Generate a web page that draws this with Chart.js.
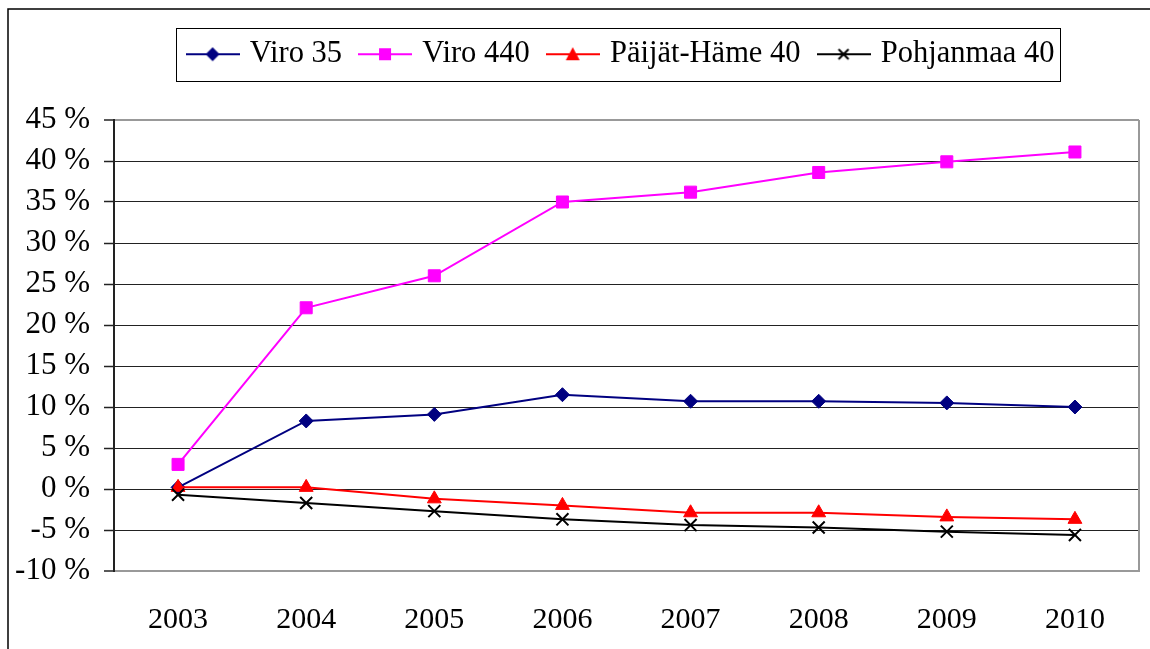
<!DOCTYPE html>
<html>
<head>
<meta charset="utf-8">
<script src="https://cdn.jsdelivr.net/npm/chart.js@4.4.0/dist/chart.umd.min.js"></script>
<style>
  body { margin: 0; background: #fff; }
</style>
</head>
<body>
<canvas id="kaavio" width="1150" height="649"></canvas>
<script>
// vuodet ja sarjat (%), luettu kuvasta
const vuodet = ['2003', '2004', '2005', '2006', '2007', '2008', '2009', '2010'];
const viro35 = [0.2, 8.3, 9.1, 11.5, 10.7, 10.7, 10.5, 10.0];
const viro440 = [3.0, 22.1, 26.0, 35.0, 36.2, 38.6, 39.9, 41.1];
const paijatHame40 = [0.2, 0.2, -1.2, -2.0, -2.9, -2.9, -3.4, -3.7];
const pohjanmaa40 = [-0.7, -1.7, -2.7, -3.7, -4.4, -4.7, -5.2, -5.6];
const sarjojenNimet = ['Viro 35', 'Viro 440', 'Päijät-Häme 40', 'Pohjanmaa 40'];
const yAkseli = { min: -10, max: 45, askel: 5 };

Chart.defaults.font.family = "'Liberation Serif', 'Times New Roman', serif";
Chart.defaults.font.size = 30;
Chart.defaults.color = '#000';

// legendan viiva + merkki kuvana
function legendaMerkki(vari, tyyli) {
    const c = document.createElement('canvas');
    c.width = 54;
    c.height = 20;
    const ctx = c.getContext('2d');
    ctx.strokeStyle = vari;
    ctx.fillStyle = vari;
    ctx.lineWidth = 2;
    ctx.beginPath();
    ctx.moveTo(0, 10);
    ctx.lineTo(54, 10);
    ctx.stroke();
    ctx.beginPath();
    if (tyyli === 'rectRot') {
        ctx.moveTo(27, 3); ctx.lineTo(34, 10); ctx.lineTo(27, 17); ctx.lineTo(20, 10);
        ctx.closePath(); ctx.fill();
    } else if (tyyli === 'rect') {
        ctx.fillRect(21, 4, 12, 12);
    } else if (tyyli === 'triangle') {
        ctx.moveTo(27, 3); ctx.lineTo(34, 16); ctx.lineTo(20, 16);
        ctx.closePath(); ctx.fill();
    } else {
        ctx.moveTo(22, 5); ctx.lineTo(32, 15);
        ctx.moveTo(32, 5); ctx.lineTo(22, 15);
        ctx.stroke();
    }
    return c;
}

const kehys = {
    id: 'kehys',
    beforeUpdate(chart) {
        // legendan alle lisää tilaa ennen kuvaajaa
        const l = chart.legend;
        if (l && !l._korjattu) {
            const alkuperainen = l.fit;
            l.fit = function () {
                alkuperainen.call(this);
                this.height += 40.5;
            };
            l._korjattu = true;
        }
    },
    afterLayout(chart) {
        chart.legend.left -= 4;
        chart.legend.right -= 4;
    },
    beforeDraw(chart) {
        const ctx = chart.ctx;
        ctx.save();
        ctx.strokeStyle = '#000';
        ctx.lineWidth = 1.5;
        ctx.beginPath();
        ctx.moveTo(8, 649);
        ctx.lineTo(8, 9);
        ctx.lineTo(1150, 9);
        ctx.stroke();
        ctx.restore();
    },
    afterDraw(chart) {
        const ctx = chart.ctx;
        const a = chart.chartArea;
        ctx.save();
        ctx.strokeStyle = '#999';
        ctx.lineWidth = 2;
        ctx.beginPath();
        ctx.moveTo(a.right, a.top);
        ctx.lineTo(a.right, a.bottom);
        ctx.stroke();
        // legendan laatikko
        const hb = chart.legend.legendHitBoxes;
        if (hb && hb.length) {
            const vasen = hb[0].left - 15;
            const viimeinen = hb[hb.length - 1];
            const oikea = viimeinen.left + viimeinen.width + 5;
            ctx.strokeStyle = '#000';
            ctx.lineWidth = 1;
            ctx.strokeRect(Math.round(vasen) + 0.5, Math.round(hb[0].top - 11) + 0.5, Math.round(oikea - vasen), Math.round(hb[0].height + 22));
        }
        ctx.restore();
    }
};

const merkit = [
    legendaMerkki('#000080', 'rectRot'),
    legendaMerkki('#FF00FF', 'rect'),
    legendaMerkki('#FF0000', 'triangle'),
    legendaMerkki('#000000', 'crossRot')
];

new Chart(document.getElementById('kaavio'), {
    type: 'line',
    data: {
        labels: vuodet,
        datasets: [{
            label: sarjojenNimet[0],
            data: viro35,
            borderColor: '#000080',
            backgroundColor: '#000080',
            borderWidth: 2,
            pointStyle: 'rectRot',
            pointRadius: 7,
            pointBorderWidth: 1,
            order: 4
        },
        {
            label: sarjojenNimet[1],
            data: viro440,
            borderColor: '#FF00FF',
            backgroundColor: '#FF00FF',
            borderWidth: 2,
            pointStyle: 'rect',
            pointRadius: 8.5,
            pointBorderWidth: 1,
            order: 3
        },
        {
            label: sarjojenNimet[2],
            data: paijatHame40,
            borderColor: '#FF0000',
            backgroundColor: '#FF0000',
            borderWidth: 2,
            pointStyle: 'triangle',
            pointRadius: 8,
            pointBorderWidth: 1,
            order: 2
        },
        {
            label: sarjojenNimet[3],
            data: pohjanmaa40,
            borderColor: '#000000',
            backgroundColor: '#000000',
            borderWidth: 2,
            pointStyle: 'crossRot',
            pointRadius: 8.5,
            pointBorderWidth: 2,
            order: 1
        }]
    },
    options: {
        responsive: false,
        animation: false,
        layout: {
            padding: { top: 18, right: 11, left: 0, bottom: 0 }
        },
        plugins: {
            tooltip: { enabled: false },
            legend: {
                position: 'top',
                fullSize: false,
                labels: {
                    usePointStyle: true,
                    pointStyleWidth: 44,
                    padding: 21,
                    color: '#000',
                    font: { size: 30.5 },
                    sort: function (a, b) { return a.datasetIndex - b.datasetIndex; },
                    generateLabels: function (chart) {
                        const lista = Chart.defaults.plugins.legend.labels.generateLabels(chart);
                        lista.forEach(function (item) {
                            item.pointStyle = merkit[item.datasetIndex];
                        });
                        return lista;
                    }
                }
            }
        },
        elements: {
            line: { tension: 0 }
        },
        scales: {
            x: {
                offset: true,
                grid: { display: false, drawTicks: false },
                border: { display: true, color: '#999', width: 2 },
                ticks: { padding: 31, font: { size: 30 }, maxRotation: 0 },
                afterFit: function (scale) {
                    scale.height = 78;
                    scale.paddingLeft = 0;
                    scale.paddingRight = 0;
                }
            },
            y: {
                min: yAkseli.min,
                max: yAkseli.max,
                ticks: {
                    stepSize: yAkseli.askel,
                    padding: 14,
                    font: { size: 31 },
                    callback: function (v) { return v + ' %'; }
                },
                grid: {
                    color: function (c) {
                        if (c.tick && (c.tick.value === yAkseli.max || c.tick.value === yAkseli.min)) return '#999';
                        return '#222';
                    },
                    lineWidth: function (c) {
                        if (c.tick && (c.tick.value === yAkseli.max || c.tick.value === yAkseli.min)) return 2;
                        return 1;
                    },
                    tickColor: '#222',
                    tickWidth: 1.5,
                    tickLength: 10
                },
                border: { display: true, color: '#222', width: 2 },
                afterFit: function (scale) {
                    scale.width = 114;
                }
            }
        }
    },
    plugins: [kehys]
});
</script>
</body>
</html>
